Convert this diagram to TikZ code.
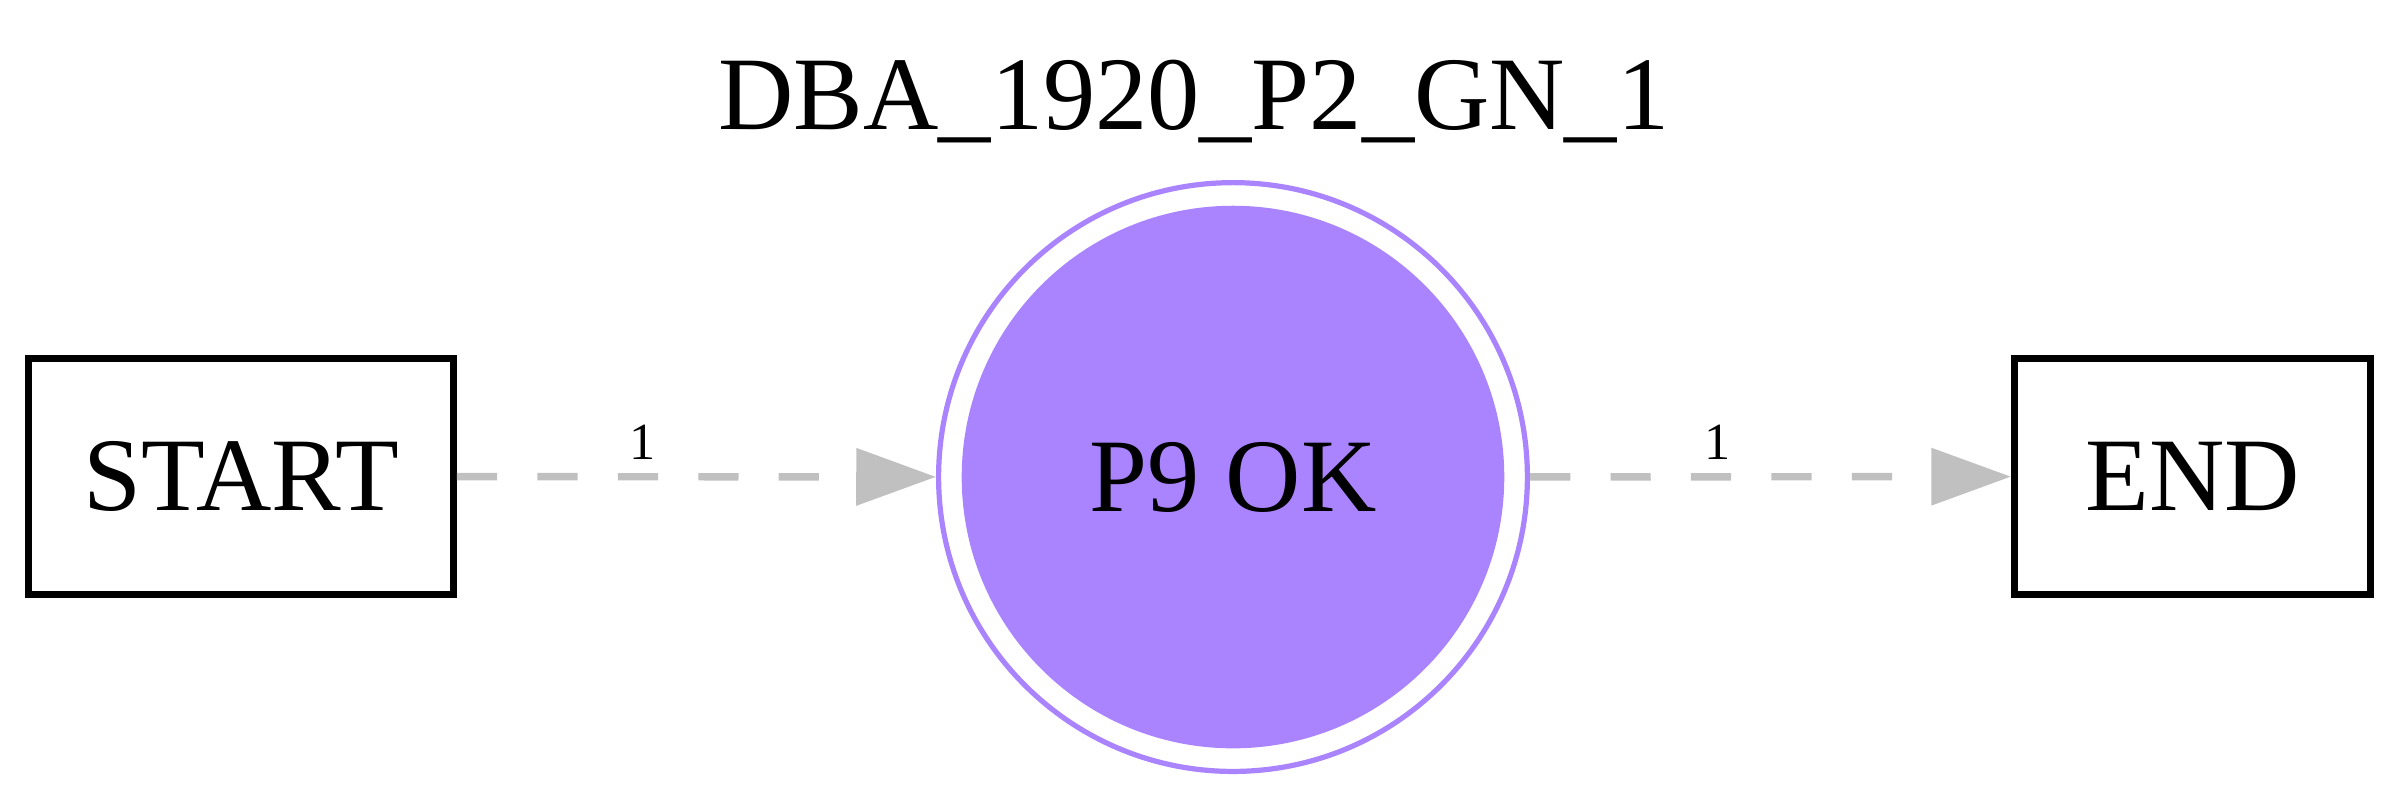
\documentclass[tikz,border=0pt]{standalone}
\usepackage{fontspec}
\setmainfont{Liberation Serif}
\usetikzlibrary{arrows.meta}
\definecolor{pfill}{RGB}{170,132,255}
\definecolor{edgegray}{RGB}{192,192,192}
\begin{document}
\begin{tikzpicture}[x=0.13417pt,y=-0.13417pt,
  boxnode/.style={draw=black, line width=0.9pt, minimum height=31.7pt, inner sep=0pt, font=\fontsize{14}{16}\selectfont},
  okstate/.style={circle, draw=pfill, line width=0.7pt, minimum size=79pt, inner sep=0pt,
    font=\fontsize{14}{16}\selectfont,
    path picture={\fill[pfill] (path picture bounding box.center) circle (36.4pt);}},
  flow/.style={draw=edgegray, line width=1pt, dash pattern=on 5.4pt off 5.4pt,
    -{Triangle[length=10.7pt,width=7.5pt,fill=edgegray]}},
  elabel/.style={font=\fontsize{7}{8}\selectfont, inner sep=0pt, anchor=base},
  titlestyle/.style={font=\fontsize{14}{16}\selectfont, inner sep=0pt, anchor=base}
]
\useasboundingbox (0,0) rectangle (2400,800);
\node[titlestyle] (title) at (1194,129) {DBA\_1920\_P2\_GN\_1};
\node[boxnode, minimum width=57pt] (start) at (241,476.5) {START};
\node[okstate] (p9) at (1233,477) {P9 OK};
\node[boxnode, minimum width=47.8pt] (end) at (2192.5,476.5) {END};
\draw[flow] (start) -- (p9);
\draw[flow] (p9) -- (end);
\node[elabel] (l1) at (643,459) {1};
\node[elabel] (l2) at (1718,459) {1};
\end{tikzpicture}
\end{document}
